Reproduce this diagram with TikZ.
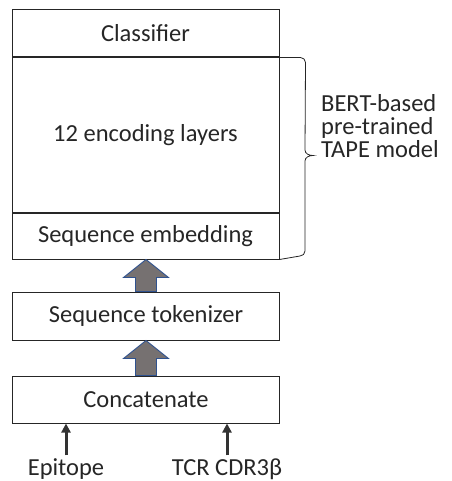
\documentclass[tikz,border=0pt]{standalone}
\usepackage{fontspec}
\setmainfont{Carlito}
\usetikzlibrary{calc,arrows.meta}
\definecolor{arrF}{RGB}{118,113,113}
\definecolor{arrB}{RGB}{47,82,143}
\definecolor{lineK}{RGB}{38,38,38}

\tikzset{
  layer/.style={draw=lineK,line width=1pt,minimum width=267pt,inner sep=0pt,
    font=\fontsize{24.5}{23}\selectfont,text=lineK},
  lbl/.style={font=\fontsize{24.5}{23}\selectfont,text=lineK,inner sep=0pt},
  bigarr/.style={fill=arrF,draw=arrB,line width=0.9pt,line join=miter},
  inarr/.style={-{Triangle[length=9pt,width=9pt]},line width=3pt,draw=black!80}
}

% block arrow from the top of one box to the bottom of the next
\newcommand{\blockarr}[2]{%
  \draw[bigarr] let \p1=(#1.north), \p2=(#2.south) in
    (\x1-10.5pt,\y1) -- (\x1-10.5pt,\y2-18pt) -- (\x1-22.5pt,\y2-18pt)
    -- (\x1,\y2) -- (\x1+22.5pt,\y2-18pt) -- (\x1+10.5pt,\y2-18pt)
    -- (\x1+10.5pt,\y1) -- cycle;}

\begin{document}
\begin{tikzpicture}[x=1pt,y=-1pt]
\useasboundingbox (0,0) rectangle (451,481);
% model stack
\node[layer,minimum height=47pt] (cls) at (145.5,33.5) {Classifier};
\node[layer,minimum height=154pt,anchor=north] (enc) at (cls.south) {12 encoding layers};
\node[layer,minimum height=46pt,anchor=north] (emb) at (enc.south) {Sequence embedding};
% input side
\node[layer,minimum height=48pt] (tok) at (146,316) {Sequence tokenizer};
\node[layer,minimum height=47pt] (cat) at (146,399.5) {Concatenate};
\blockarr{tok}{emb}
\blockarr{cat}{tok}
% inputs
\node[lbl] (epi) at (66,469) {Epitope};
\node[lbl] (tcr) at (227,469) {TCR CDR3β};
\draw[inarr] (epi.north) ++(0,-3) coordinate (epiT) (epiT) -- (epiT|-cat.south);
\draw[inarr] (tcr.north) ++(0,-3) coordinate (tcrT) (tcrT) -- (tcrT|-cat.south);
% brace over the pre-trained part
\draw[lineK,line width=0.8pt] (enc.north east) -- ++(21,0) to[out=0,in=90] ++(5,5)
  -- (305,150) to[out=-90,in=180] (313,155.5) to[out=180,in=90] (305,161)
  -- (305,251) to[out=-90,in=0] ++(-5,5) -- (emb.south east);
\node[lbl,align=left,anchor=west] (bert) at (321,126) {BERT-based\\pre-trained\\TAPE model};
\end{tikzpicture}
\end{document}
